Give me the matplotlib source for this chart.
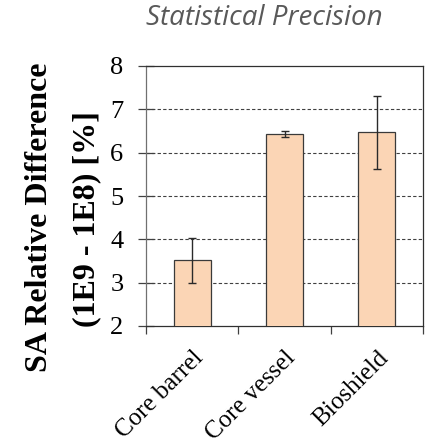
import numpy as np
import matplotlib
matplotlib.use('Agg')
from matplotlib import pyplot as plt
from matplotlib.transforms import ScaledTranslation

categories = ['Core barrel', 'Core vessel', 'Bioshield']
values = [3.52, 6.43, 6.47]
errors = [0.52, 0.07, 0.84]
y_ticks = [2, 3, 4, 5, 6, 7, 8]

fig = plt.figure(figsize=(4.26, 4.38), dpi=100)
ax = fig.add_axes([146 / 426, 1 - 326 / 438, 277 / 426, 260 / 438])

x = np.arange(len(categories))
ax.bar(x, values, width=0.4, color='#FBD5B5', edgecolor='#3a3a3a', linewidth=0.9, zorder=3)
ax.errorbar(x, values, yerr=errors, fmt='none', ecolor='#2a2a2a', elinewidth=1.0,
            capsize=3, capthick=1.0, zorder=4)

ax.set_xlim(-0.5, 2.5)
ax.set_ylim(2, 8)
ax.set_yticks(y_ticks, labels=[str(t) for t in y_ticks], fontfamily='Liberation Serif', fontsize=19)
ax.set_xticks([-0.5, 0.5, 1.5, 2.5])
ax.set_xticklabels([])
ax.set_xticks(x, labels=categories, minor=True)
shift = ScaledTranslation(-2 / 100, 0, fig.dpi_scale_trans)
for lab in ax.get_xticklabels(minor=True):
    lab.set_fontfamily('Liberation Serif')
    lab.set_fontsize(18)
    lab.set_rotation(45)
    lab.set_ha('right')
    lab.set_va('top')
    lab.set_rotation_mode('anchor')
    lab.set_transform(lab.get_transform() + shift)

ax.tick_params(axis='y', direction='inout', length=11.5, width=0.9, color='#404040', pad=10.5)
ax.tick_params(axis='x', which='major', direction='out', length=6, width=0.9, color='#404040')
ax.tick_params(axis='x', which='minor', length=0, pad=15)

for y in [3, 4, 5, 6, 7]:
    ax.axhline(y, color='#404040', linestyle=(0, (3, 2)), linewidth=0.8, zorder=1)

for side in ['top', 'right', 'bottom']:
    ax.spines[side].set_color('#303030')
    ax.spines[side].set_linewidth(0.9)
ax.spines['left'].set_color('#707070')
ax.spines['left'].set_linewidth(0.9)

fig.text(264 / 426, 1 - 18 / 438, 'Statistical Precision', fontfamily='Open Sans',
         fontstyle='italic', fontsize=20, color='#595959', ha='center', va='center')
fig.text(40 / 426, 1 - 217 / 438, 'SA Relative Difference', fontfamily='Liberation Serif',
         fontweight='bold', fontsize=23, rotation=90, ha='center', va='center')
fig.text(87 / 426, 1 - 219 / 438, '(1E9 - 1E8) [%]', fontfamily='Liberation Serif',
         fontweight='bold', fontsize=23, rotation=90, ha='center', va='center')

fig.savefig('out.png', dpi=100)
